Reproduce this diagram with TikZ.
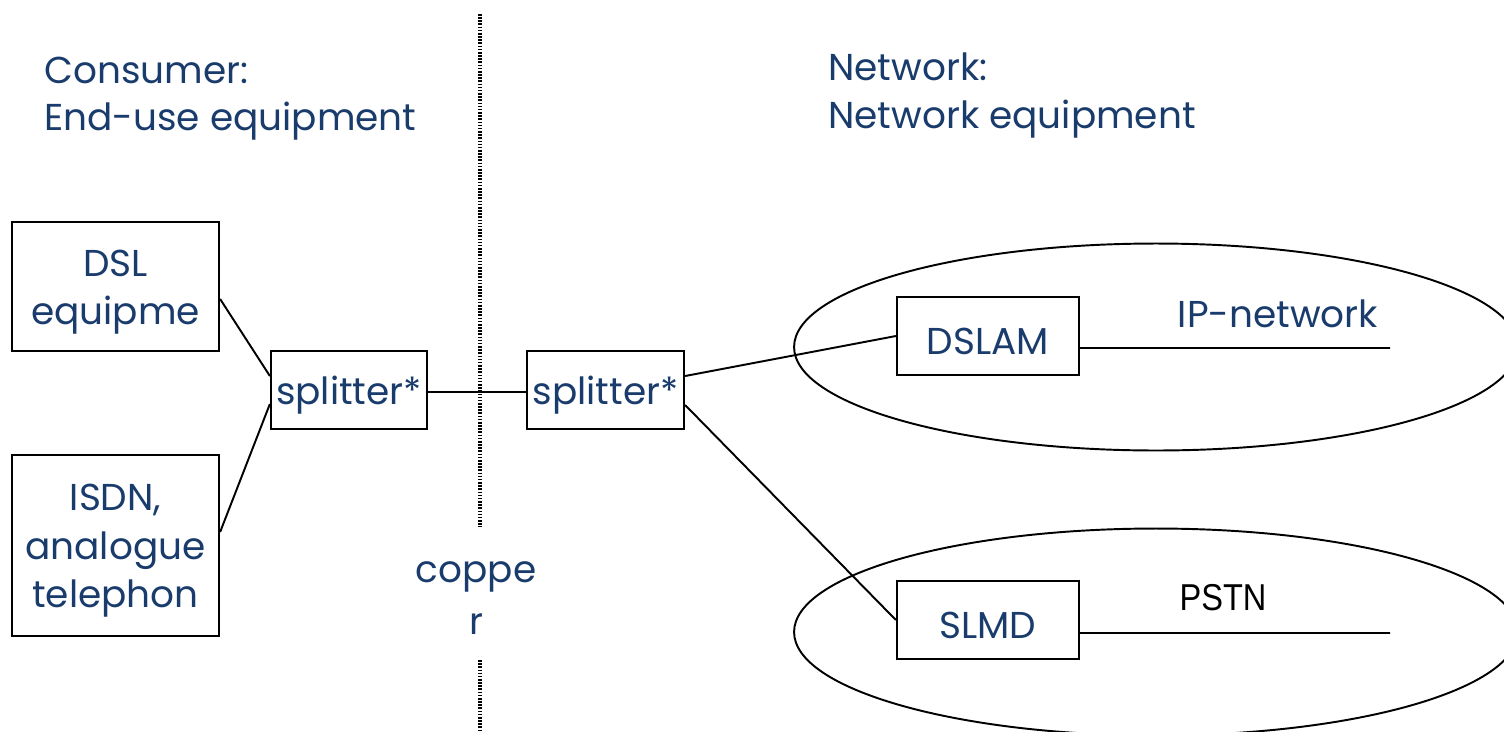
\documentclass[tikz,border=0pt]{standalone}
\usepackage{fontspec}
\setmainfont{Poppins}
\newfontfamily\arialfont{Liberation Sans}
\usetikzlibrary{calc}
\definecolor{navy}{RGB}{26,60,108}
\tikzset{
  lbl/.style={text=navy, font=\fontsize{21.3}{26}\selectfont, inner sep=0pt},
  box/.style={draw=black, line width=1.3pt, inner sep=0pt},
  boxtext/.style={text=navy, font=\fontsize{21.3}{27.6}\selectfont, align=center, inner sep=0pt, yshift=-0.11cm},
  wire/.style={draw=black, line width=1.1pt},
  cloud/.style={draw=black, line width=1.1pt},
  divider/.style={draw=black, line width=1.8pt, dash pattern=on 0.9pt off 0.9pt},
}
\begin{document}
\begin{tikzpicture}[x=0.02cm,y=-0.02cm]
\useasboundingbox (0,0) rectangle (1504,731);
\clip (0,0) rectangle (1504,731);
% divider
\coordinate (d1) at (480,14);
\coordinate (d2) at (480,527);
\coordinate (d3) at (480,660);
\coordinate (d4) at (480,731);
\draw[divider] (d1) -- (d2);
\draw[divider] (d3) -- (d4);
% titles
\node[lbl, anchor=base west] (c1) at (44,83) {Consumer:};
\node[lbl, anchor=base west] (c2) at (44,130) {End-use equipment};
\node[lbl, anchor=base west] (n1) at (828,80) {Network:};
\node[lbl, anchor=base west] (n2) at (828,128) {Network equipment};
% ellipses
\draw[cloud] (1156,347) ellipse [x radius=7.24cm, y radius=2.07cm];
\draw[cloud] (1156,632) ellipse [x radius=7.24cm, y radius=2.07cm];
% boxes
\node[box, minimum width=4.14cm, minimum height=2.58cm, label={[boxtext]center:{DSL\\equipme}}] (dsl) at (115.5,286.5) {};
\node[box, minimum width=4.14cm, minimum height=3.62cm, label={[boxtext]center:{ISDN,\\analogue\\telephon}}] (isdn) at (115.5,545.5) {};
\node[box, minimum width=3.12cm, minimum height=1.56cm, label={[boxtext]center:{splitter*}}] (sp1) at (349,390) {};
\node[box, minimum width=3.14cm, minimum height=1.56cm, label={[boxtext]center:{splitter*}}] (sp2) at (605.5,390) {};
\node[box, minimum width=3.64cm, minimum height=1.56cm, label={[boxtext]center:{DSLAM}}] (dslam) at (988,336) {};
\node[box, minimum width=3.64cm, minimum height=1.56cm, label={[boxtext]center:{SLMD}}] (slmd) at (988,620) {};
\node[lbl] (cu1) at (476,577) {coppe};
\node[lbl] (cu2) at (476,624) {r};
\node[lbl, anchor=base] (ip) at (1278,327) {IP-network};
\node[lbl, text=black, anchor=base, font=\arialfont\fontsize{21.3}{26}\selectfont] (pstn) at (1223,610) {\scalebox{0.87}[1]{PSTN}};
\coordinate (ipend) at (1390,348);
\coordinate (pstnend) at (1390,633);
% wires
\draw[wire] ([yshift=-0.25cm]dsl.east) -- ([yshift=0.28cm]sp1.west);
\draw[wire] ([yshift=0.27cm]isdn.east) -- ([yshift=-0.28cm]sp1.west);
\draw[wire] ([yshift=-0.04cm]sp1.east) -- ([yshift=-0.04cm]sp2.west);
\draw[wire] ([yshift=0.28cm]sp2.east) -- (dslam.west);
\draw[wire] ([yshift=-0.3cm]sp2.east) -- (slmd.west);
\draw[wire] ([yshift=-0.24cm]dslam.east) -- (ipend);
\draw[wire] ([yshift=-0.26cm]slmd.east) -- (pstnend);
\end{tikzpicture}
\end{document}
